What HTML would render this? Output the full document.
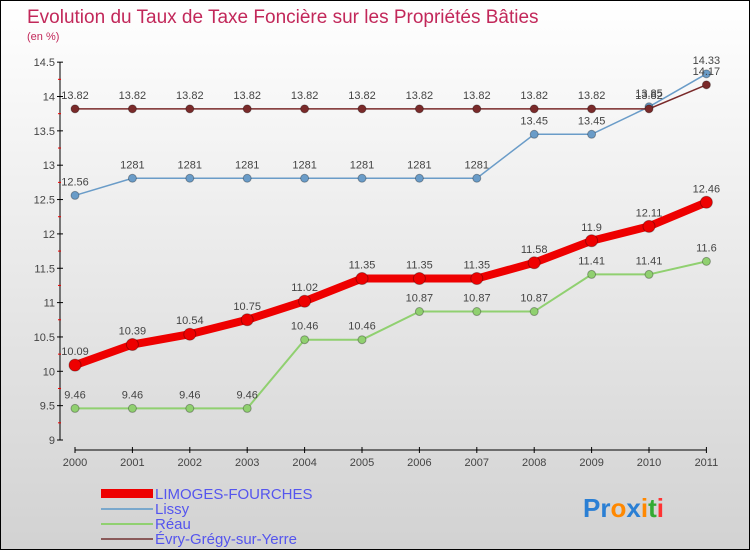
<!DOCTYPE html>
<html><head><meta charset="utf-8"><style>
body{margin:0}
#c{width:748px;height:548px;border:1px solid #000;background:linear-gradient(#fff,#d2d2d2);position:relative;font-family:"Liberation Sans",sans-serif;overflow:hidden}
text{font-family:"Liberation Sans",sans-serif}
</style></head><body>
<div id="c">
<svg id="s" width="748" height="548">
<text x="26" y="22" font-size="19" fill="#c2285a">Evolution du Taux de Taxe Foncière sur les Propriétés Bâties</text>
<text x="26" y="39" font-size="11" fill="#c2285a">(en %)</text>
<g id="g"></g>
<g>
<rect x="100" y="488" width="52" height="9" fill="#e00"/>
<text x="154" y="498" font-size="15" fill="#5555ee">LIMOGES-FOURCHES</text>
<line x1="100" y1="508" x2="152" y2="508" stroke="#7aa8cc" stroke-width="2"/>
<text x="154" y="513" font-size="15" fill="#5555ee">Lissy</text>
<line x1="100" y1="523" x2="152" y2="523" stroke="#90d070" stroke-width="2"/>
<text x="154" y="528" font-size="15" fill="#5555ee">Réau</text>
<line x1="100" y1="538" x2="152" y2="538" stroke="#8a5a5a" stroke-width="2"/>
<text x="154" y="543" font-size="15" fill="#5555ee">Évry-Grégy-sur-Yerre</text>
</g>
<g font-size="26" font-weight="bold">
<text x="582" y="516"><tspan fill="#2a7fd4">Pr</tspan><tspan fill="#ff8800">o</tspan><tspan fill="#2a7fd4">x</tspan><tspan fill="#ff8800">i</tspan><tspan fill="#33aa33">t</tspan><tspan fill="#ff3333">i</tspan></text>
</g>
</svg>
</div>
<script>
const years=[2000,2001,2002,2003,2004,2005,2006,2007,2008,2009,2010,2011];
const yTicks=[9,9.5,10,10.5,11,11.5,12,12.5,13,13.5,14,14.5];
const limoges=[10.09,10.39,10.54,10.75,11.02,11.35,11.35,11.35,11.58,11.9,12.11,12.46];
const lissy=[12.56,12.81,12.81,12.81,12.81,12.81,12.81,12.81,13.45,13.45,13.85,14.33];
const reau=[9.46,9.46,9.46,9.46,10.46,10.46,10.87,10.87,10.87,11.41,11.41,11.6];
const evry=[13.82,13.82,13.82,13.82,13.82,13.82,13.82,13.82,13.82,13.82,13.82,14.17];
const lissyLbl=["12.56","1281","1281","1281","1281","1281","1281","1281","13.45","13.45","13.85","14.33"];
const NS="http://www.w3.org/2000/svg",g=document.getElementById('g');
const X=i=>74+i*57.4, Y=v=>439-(v-9)*68.7;
function el(t,a,name){const e=document.createElementNS(NS,t);for(const k in a)e.setAttribute(k,a[k]);


g.appendChild(e);return e;}
el('line',{x1:59,y1:Y(14.5),x2:59,y2:Y(9),stroke:'#000'},'y-axis');
el('line',{x1:74,y1:449,x2:X(11),y2:449,stroke:'#000'},'x-axis');
yTicks.forEach(v=>{el('line',{x1:56,y1:Y(v),x2:62,y2:Y(v),stroke:'#000'},'y-tick');
 const t=el('text',{x:54,y:Y(v)+4,'font-size':11,'text-anchor':'end',fill:'#444'},'y-tick-label');t.textContent=String(v);
 if(v<14.5)el('line',{x1:57,y1:Y(v+0.25),x2:60,y2:Y(v+0.25),stroke:'#e00'},'y-minor-tick');});
years.forEach((y,i)=>{el('line',{x1:X(i),y1:446,x2:X(i),y2:452,stroke:'#000'},'x-tick');
 const t=el('text',{x:X(i),y:465,'font-size':11,'text-anchor':'middle',fill:'#444'},'x-tick-label');t.textContent=y;});
function series(d,col,w,r,name,lbl){
 el('polyline',{points:d.map((v,i)=>X(i)+','+Y(v)).join(' '),fill:'none',stroke:col,'stroke-width':w},name+'-line');
 d.forEach((v,i)=>{el('circle',{cx:X(i),cy:Y(v),r:r,fill:col,stroke:'rgba(0,0,0,.3)'},name+'-point');
  const t=el('text',{x:X(i),y:Y(v)-10,'font-size':11,'text-anchor':'middle',fill:'#444'},name+'-value');t.textContent=lbl?lbl[i]:String(v);});
}
series(reau,'#90d070',2,4,'reau');
series(lissy,'#6a9cc8',1.5,4,'lissy',lissyLbl);
series(evry,'#7a2a2a',1.5,4,'evry');
series(limoges,'#e00',8,6,'limoges');
</script>
</body></html>
